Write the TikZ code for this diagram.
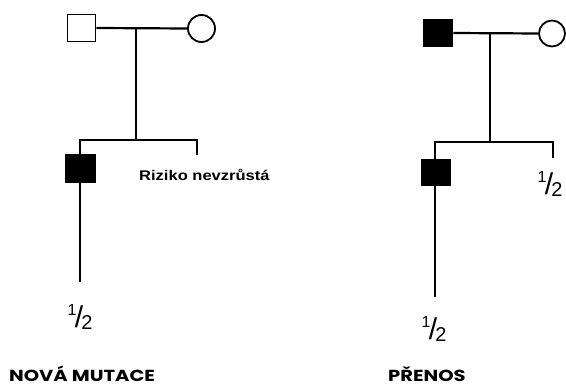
\documentclass[tikz,border=0pt]{standalone}
\usepackage{fontspec}
\setmainfont{Liberation Sans}
\newfontfamily\titlefont{Poppins}
\begin{document}
\begin{tikzpicture}[x=1pt,y=-1pt,
  line/.style={line width=2.2pt},
  male/.style={draw,line width=1.8pt,rectangle,minimum width=28pt,minimum height=27pt,inner sep=0pt},
  affected/.style={male,fill=black},
  female/.style={draw,line width=1.8pt,circle,minimum size=27pt,inner sep=0pt},
  frac/.style={inner sep=0pt,anchor=base},
  note/.style={inner sep=0pt,anchor=west,font=\bfseries\fontsize{14}{14}\selectfont},
  title/.style={inner sep=0pt,anchor=base west,font=\titlefont\bfseries\fontsize{16}{16}\selectfont}]
\useasboundingbox (0,0) rectangle (566,385);
\newcommand{\half}{\raisebox{14pt}{\fontsize{16}{16}\selectfont 1}\kern-1.5pt\raisebox{2pt}{\fontsize{30}{30}\selectfont/}\kern-2pt{\fontsize{20}{20}\selectfont 2}}
\newcommand{\nodepth}[1]{\raisebox{0pt}[\height][0pt]{#1}}

% left family: new mutation
\node[male] (f1) at (81.5,28) {};
\node[female] (m1) at (201.5,28.5) {};
\coordinate (d1) at (136,28);
\coordinate (s1) at (136,140);
\coordinate (l1) at (80,140);
\coordinate (r1) at (197,140);
\coordinate (r1e) at (197,155);
\node[affected,minimum width=29pt,minimum height=28pt] (c1) at (80.5,168.5) {};
\coordinate (c1e) at (80,282);
\draw[line] (f1.east) -- (m1.west);
\draw[line] (d1) -- (s1);
\draw[line] (c1.north -| l1) -- (l1) -- (r1) -- (r1e);
\draw[line] (c1.south -| c1e) -- (c1e);
\node[frac] (h1) at (80,330) {\half};
\node[note] (risk) at (139,175) {\scalebox{1.18}[1]{Riziko nevzrůstá}};
\node[title] (t1) at (9,381.5) {\nodepth{\scalebox{1.22}[1]{NOVÁ MUTACE}}};

% right family: transmission
\node[affected,minimum width=29pt] (f2) at (438,33) {};
\node[female,minimum size=26pt] (m2) at (552,33.5) {};
\coordinate (d2) at (490,33);
\coordinate (s2) at (490,142);
\coordinate (l2) at (435,142);
\coordinate (r2) at (553,142);
\coordinate (r2e) at (553,158);
\node[affected,minimum width=29pt,minimum height=26pt] (c2) at (436,172.5) {};
\coordinate (c2e) at (435,297);
\draw[line] (f2.east) -- (m2.west);
\draw[line] (d2) -- (s2);
\draw[line] (c2.north -| l2) -- (l2) -- (r2) -- (r2e);
\draw[line] (c2.south -| c2e) -- (c2e);
\node[frac] (h2) at (550,197) {\half};
\node[frac] (h3) at (434,342) {\half};
\node[title] (t2) at (388,381.5) {\nodepth{\scalebox{1.22}[1]{PŘENOS}}};
\end{tikzpicture}
\end{document}
